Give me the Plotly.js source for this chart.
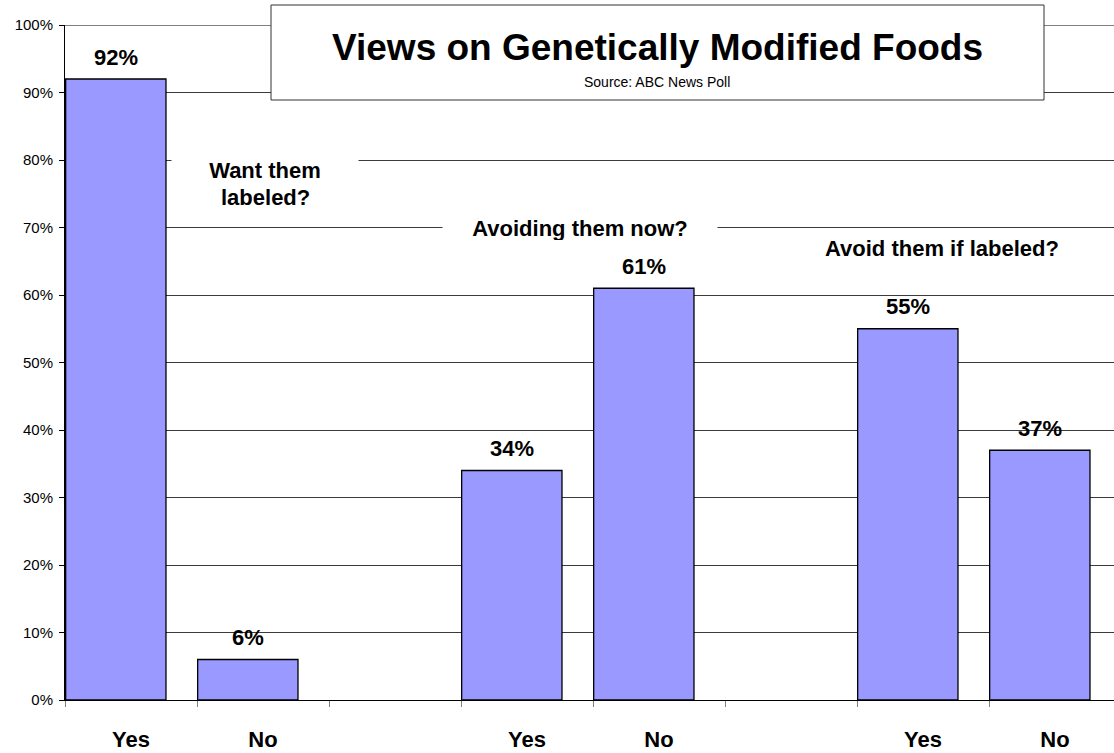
<!DOCTYPE html>
<html>
<head>
<meta charset="utf-8">
<script src="https://cdn.plot.ly/plotly-3.0.1.min.js"></script>
<style>
html,body{margin:0;padding:0;background:#fff;overflow:hidden;}
#chart{width:1114px;height:753px;}
</style>
</head>
<body>
<div id="chart"></div>
<script>
// Data
const slots = [0, 1, 2, 3, 4, 5, 6, 7];
const tickLabels = ['Yes', 'No', '', 'Yes', 'No', '', 'Yes', 'No'];
const values = [92, 6, null, 34, 61, null, 55, 37];
const questions = ['Want them', 'labeled?', 'Avoiding them now?', 'Avoid them if labeled?'];
const yTicks = [0, 10, 20, 30, 40, 50, 60, 70, 80, 90, 100];
const yTickText = yTicks.map(v => v + '%');
const titleText = 'Views on Genetically Modified Foods';
const subtitleText = 'Source: ABC News Poll';

const FONT = 'Liberation Sans, Arial, sans-serif';
const BAR_W = 0.76;
const BAR_OFF = -0.495;
const LBL = 22;

const trace = {
  type: 'bar',
  x: slots,
  y: values,
  width: BAR_W,
  offset: BAR_OFF,
  marker: {color: '#9999FF', line: {color: '#000000', width: 1.3}},
  hoverinfo: 'skip'
};

// plot area in pixels: left 65, right 1114, top 25, bottom 700
const L = 65, R = 1114, T = 25, B = 700;
const px = x => (x - L) / (R - L);
const py = y => (B - y) / (B - T);

const annotations = [];
values.forEach((v, i) => {
  if (v === null) return;
  annotations.push({
    x: i + BAR_OFF + BAR_W / 2, y: v, xref: 'x', yref: 'y',
    text: '<b>' + v + '%</b>', showarrow: false,
    xanchor: 'center', yanchor: 'middle', yshift: 22,
    font: {family: FONT, size: LBL, color: '#000'}
  });
});

function paperNote(x, y, text, size, extra) {
  return Object.assign({
    xref: 'paper', yref: 'paper', x: px(x), y: py(y),
    xanchor: 'center', yanchor: 'middle',
    text: text, showarrow: false,
    font: {family: FONT, size: size, color: '#000'}
  }, extra || {});
}

// question labels
annotations.push(paperNote(265, 170, '<b>' + questions[0] + '</b>', LBL,
  {width: 184, height: 24, bgcolor: '#ffffff'}));
annotations.push(paperNote(265, 198, '<b>' + questions[1] + '</b>', LBL));
annotations.push(paperNote(580, 228, '<b>' + questions[2] + '</b>', LBL,
  {width: 272, height: 24, bgcolor: '#ffffff'}));
annotations.push(paperNote(942, 248, '<b>' + questions[3] + '</b>', LBL));

// title box texts
annotations.push(paperNote(657, 48, '<b>' + titleText + '</b>', 37));
annotations.push(paperNote(657, 82, subtitleText, 14));

const shapes = [
  {type: 'line', xref: 'paper', yref: 'y', x0: 0, x1: 1, y0: 100, y1: 100,
   line: {color: '#808080', width: 2}, layer: 'below'},
  {type: 'rect', xref: 'paper', yref: 'paper', x0: px(271), x1: px(1044), y0: py(100), y1: py(5),
   fillcolor: '#ffffff', line: {color: '#333333', width: 1}, layer: 'above'}
];

const layout = {
  width: 1114, height: 753,
  margin: {l: 65, r: 0, t: 25, b: 53, pad: 0},
  paper_bgcolor: '#ffffff', plot_bgcolor: '#ffffff',
  showlegend: false,
  font: {family: FONT, color: '#000'},
  xaxis: {
    type: 'category',
    categoryorder: 'array', categoryarray: slots,
    range: [-0.5, 7.447],
    tickmode: 'array', tickvals: slots, ticktext: tickLabels,
    tickson: 'boundaries',
    ticks: 'outside', ticklen: 6, tickcolor: '#808080', tickwidth: 1,
    showline: true, linecolor: '#000', linewidth: 1,
    showgrid: false, zeroline: false,
    tickfont: {family: FONT, size: LBL, color: '#000', weight: 'bold'},
    ticklabelstandoff: 20,
    fixedrange: true
  },
  yaxis: {
    range: [0, 100],
    tickmode: 'array', tickvals: yTicks, ticktext: yTickText,
    ticks: 'outside', ticklen: 5, tickcolor: '#000', tickwidth: 1,
    showline: true, linecolor: '#000', linewidth: 1,
    showgrid: true, gridcolor: '#3a3a3a', gridwidth: 1,
    zeroline: false,
    tickfont: {family: FONT, size: 15, color: '#000'},
    ticklabelstandoff: 3,
    fixedrange: true
  },
  annotations: annotations,
  shapes: shapes
};

Plotly.newPlot('chart', [trace], layout, {displayModeBar: false, staticPlot: true});
</script>
</body>
</html>
